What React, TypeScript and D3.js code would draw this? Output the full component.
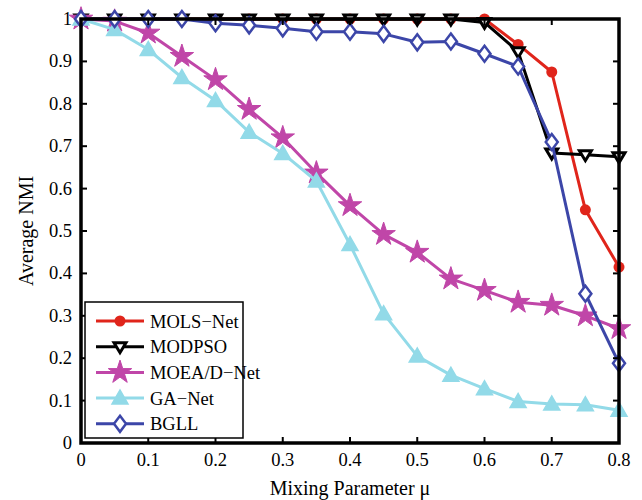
import React from "react";
import * as d3 from "d3";

const mu = [0, 0.05, 0.1, 0.15, 0.2, 0.25, 0.3, 0.35, 0.4, 0.45, 0.5, 0.55, 0.6, 0.65, 0.7, 0.75, 0.8];
const molsNet = [1, 1, 1, 1, 1, 1, 1, 1, 1, 1, 1, 1, 1, 0.94, 0.875, 0.55, 0.415];
const modpso = [1, 1, 1, 1, 1, 1, 1, 1, 1, 1, 1, 1, 0.992, 0.923, 0.684, 0.68, 0.675];
const moeadNet = [1, 0.995, 0.967, 0.912, 0.857, 0.787, 0.72, 0.637, 0.56, 0.492, 0.45, 0.387, 0.36, 0.332, 0.325, 0.3, 0.27];
const gaNet = [1, 0.975, 0.928, 0.862, 0.808, 0.733, 0.683, 0.618, 0.468, 0.305, 0.205, 0.16, 0.128, 0.098, 0.092, 0.09, 0.077];
const bgll = [1, 1, 1, 1, 0.99, 0.985, 0.978, 0.97, 0.97, 0.965, 0.945, 0.947, 0.918, 0.888, 0.71, 0.352, 0.188];
const xTicks = [0, 0.1, 0.2, 0.3, 0.4, 0.5, 0.6, 0.7, 0.8];
const yTicks = [0, 0.1, 0.2, 0.3, 0.4, 0.5, 0.6, 0.7, 0.8, 0.9, 1];
const seriesNames = ["MOLS\u2212Net", "MODPSO", "MOEA/D\u2212Net", "GA\u2212Net", "BGLL"];

const FONT = "'Liberation Serif', 'Times New Roman', serif";

type Series = { name: string; values: number[]; color: string; marker: string };

const series: Series[] = [
  { name: seriesNames[0], values: molsNet, color: "#e0251b", marker: "circle" },
  { name: seriesNames[1], values: modpso, color: "#000000", marker: "tri-down" },
  { name: seriesNames[2], values: moeadNet, color: "#c046a8", marker: "star" },
  { name: seriesNames[3], values: gaNet, color: "#92dae8", marker: "tri-up" },
  { name: seriesNames[4], values: bgll, color: "#3c46a8", marker: "diamond" },
];

function Marker({ type, x, y, color }: { type: string; x: number; y: number; color: string }) {
  if (type === "circle") return <circle cx={x} cy={y} r={5.5} fill={color} />;
  if (type === "tri-down") {
    const p = `${x - 6},${y - 4} ${x + 6},${y - 4} ${x},${y + 6}`;
    return <polygon points={p} fill="#fff" stroke={color} strokeWidth={3} strokeLinejoin="miter" />;
  }
  if (type === "tri-up") {
    const p = `${x - 8},${y + 6} ${x + 8},${y + 6} ${x},${y - 8}`;
    return <polygon points={p} fill={color} stroke={color} strokeWidth={1.5} strokeLinejoin="miter" />;
  }
  if (type === "star") {
    const sym = d3.symbol().type(d3.symbolStar).size(170)();
    return <path d={sym || ""} transform={`translate(${x},${y})`} fill={color} stroke={color} strokeWidth={1} />;
  }
  if (type === "diamond") {
    const p = `${x},${y - 8} ${x + 6},${y} ${x},${y + 8} ${x - 6},${y}`;
    return <polygon points={p} fill="#fff" stroke={color} strokeWidth={2.5} />;
  }
  return null;
}

export default function App() {
  const W = 642, H = 500;
  const left = 81, right = 619, top = 19, bottom = 443;
  const x = d3.scaleLinear().domain([0, 0.8]).range([left, right]);
  const y = d3.scaleLinear().domain([0, 1]).range([bottom, top]);
  const line = d3.line<number>().x((_, i) => x(mu[i])).y((d) => y(d));
  const tickLen = 6;

  const legX = 85, legY = 302, legW = 158, legH = 136;

  return (
    <svg width={W} height={H} style={{ position: "absolute", left: 0, top: 0, background: "#fff" }} fontFamily={FONT}>
      <rect x={0} y={0} width={W} height={H} fill="#fff" />
      {series.map((s) => (
        <g key={s.name}>
          <path d={line(s.values) || ""} fill="none" stroke={s.color} strokeWidth={3} strokeLinejoin="round" />
          {s.values.map((v, i) => (
            <Marker key={i} type={s.marker} x={x(mu[i])} y={y(v)} color={s.color} />
          ))}
        </g>
      ))}
      {/* frame */}
      <rect x={left} y={top} width={right - left} height={bottom - top} fill="none" stroke="#000" strokeWidth={3.5} />
      {xTicks.map((t) => (
        <g key={"x" + t}>
          <line x1={x(t)} x2={x(t)} y1={bottom} y2={bottom - tickLen} stroke="#000" strokeWidth={2} />
          <line x1={x(t)} x2={x(t)} y1={top} y2={top + tickLen} stroke="#000" strokeWidth={2} />
          <text x={x(t)} y={bottom + 23} textAnchor="middle" fontSize={18.5} fill="#000">{String(t)}</text>
        </g>
      ))}
      {yTicks.map((t) => (
        <g key={"y" + t}>
          <line x1={left} x2={left + tickLen} y1={y(t)} y2={y(t)} stroke="#000" strokeWidth={2} />
          <line x1={right} x2={right - tickLen} y1={y(t)} y2={y(t)} stroke="#000" strokeWidth={2} />
          <text x={left - 9} y={y(t) + 6} textAnchor="end" fontSize={18.5} fill="#000">{String(t)}</text>
        </g>
      ))}
      <text x={(left + right) / 2} y={495} textAnchor="middle" fontSize={20} fill="#000">Mixing Parameter μ</text>
      <text transform={`translate(33,${(top + bottom) / 2}) rotate(-90)`} textAnchor="middle" fontSize={20} fill="#000">Average NMI</text>
      {/* legend */}
      <rect x={legX} y={legY} width={legW} height={legH} fill="#fff" stroke="#000" strokeWidth={1.5} />
      {series.map((s, i) => {
        const ly = legY + 19 + i * 25.7;
        return (
          <g key={"leg" + s.name}>
            <line x1={legX + 11} x2={legX + 59} y1={ly} y2={ly} stroke={s.color} strokeWidth={3} />
            <Marker type={s.marker} x={legX + 35} y={ly} color={s.color} />
            <text x={legX + 65} y={ly + 6.5} fontSize={18.5} fill="#000">{s.name}</text>
          </g>
        );
      })}
    </svg>
  );
}
